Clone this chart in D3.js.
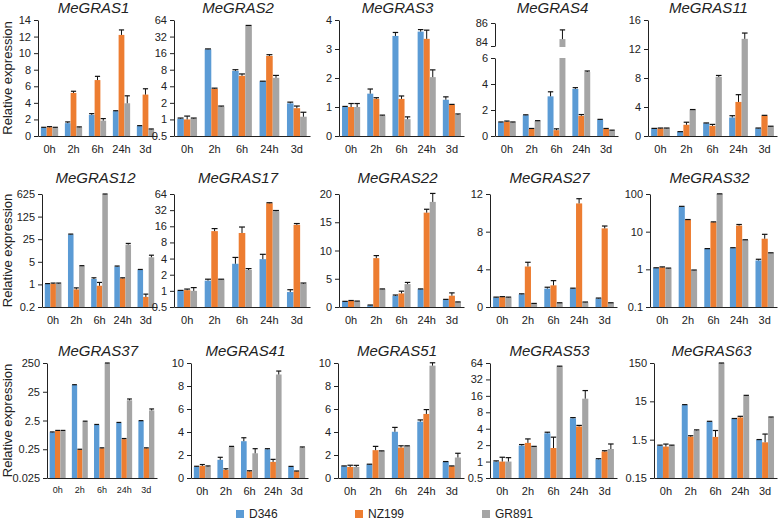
<!DOCTYPE html>
<html>
<head>
<meta charset="utf-8">
<script src="https://cdn.jsdelivr.net/npm/d3@7"></script>
<style>
  body { margin: 0; background: #fff; }
  svg text { font-family: Arial, "Liberation Sans", sans-serif; fill: #222; }
</style>
</head>
<body>
<svg id="chart" width="778" height="522"></svg>
<script>
// ---- data ----
const times = ['0h', '2h', '6h', '24h', '3d'];
const cultivars = ['D346', 'NZ199', 'GR891'];
const genes = ['MeGRAS1', 'MeGRAS2', 'MeGRAS3', 'MeGRAS4', 'MeGRAS11',
               'MeGRAS12', 'MeGRAS17', 'MeGRAS22', 'MeGRAS27', 'MeGRAS32',
               'MeGRAS37', 'MeGRAS41', 'MeGRAS51', 'MeGRAS53', 'MeGRAS63'];

// mean relative expression, one row per gene (same order as genes)
const meanD346 = [
  [1.0, 1.55, 2.55, 3.0, 1.2],
  [1.03, 18.8, 7.6, 4.9, 1.96],
  [1.0, 1.46, 3.45, 3.6, 1.25],
  [1.05, 1.6, 3.05, 3.62, 1.25],
  [1.0, 0.55, 1.75, 2.55, 1.05],
  [1.03, 35, 1.47, 3.56, 2.8],
  [1.0, 1.55, 3.2, 3.9, 0.95],
  [0.95, 0.3, 1.97, 3.15, 1.3],
  [1.0, 1.35, 1.95, 1.95, 0.9],
  [1.08, 46, 3.5, 3.65, 1.72],
  [0.97, 43, 1.77, 2.08, 2.4],
  [0.97, 1.58, 3.2, 2.5, 0.98],
  [1.02, 1.17, 4.02, 4.9, 1.4],
  [1.0, 1.96, 3.3, 6.2, 1.1],
  [1.05, 12, 4.4, 5.2, 1.47]
];
const meanNZ199 = [
  [1.05, 5.2, 6.75, 12.2, 5.0],
  [1.0, 3.6, 6.2, 14.2, 1.6],
  [1.0, 1.28, 1.28, 3.35, 1.07],
  [1.1, 0.55, 0.45, 1.55, 0.55],
  [1.05, 1.55, 1.4, 4.7, 2.8],
  [1.05, 0.7, 0.91, 1.54, 0.41],
  [1.03, 13, 12, 43, 17],
  [1.07, 8.65, 2.4, 16.7, 2.0],
  [1.05, 4.3, 2.3, 11.0, 8.35],
  [1.13, 20.5, 17.8, 14.5, 6.5],
  [1.1, 0.24, 0.27, 0.56, 0.27],
  [1.05, 0.7, 0.58, 1.4, 0.58],
  [0.96, 2.42, 2.65, 5.57, 1.02],
  [1.0, 2.2, 1.77, 4.4, 1.53],
  [0.99, 1.8, 1.77, 5.7, 1.28]
];
const meanGR891 = [
  [1.0, 1.05, 1.85, 3.95, 0.8],
  [1.03, 1.7, 50, 5.7, 1.12],
  [1.0, 0.7, 0.58, 2.03, 0.73],
  [1.05, 1.15, 84.6, 4.92, 0.42],
  [1.05, 3.6, 8.15, 13.4, 1.3],
  [1.05, 3.7, 610, 17, 6.9],
  [1.0, 1.62, 2.45, 30.5, 1.35],
  [1.0, 3.15, 4.05, 18.6, 0.85],
  [1.0, 0.35, 0.42, 0.5, 0.42],
  [1.06, 0.94, 100, 6.0, 2.7],
  [1.1, 2.3, 245, 12.6, 5.6],
  [1.0, 2.7, 2.15, 9.0, 2.65],
  [0.96, 2.33, 2.77, 9.77, 1.78],
  [1.0, 1.85, 55, 14.2, 1.7],
  [1.05, 2.6, 148, 20.7, 5.7]
];

// standard deviation (upper error bar length)
const sdD346 = [
  [0.05, 0.15, 0.15, 0.05, 0.05],
  [0.03, 0.3, 0.4, 0.05, 0.1],
  [0.02, 0.16, 0.12, 0.07, 0.1],
  [0.03, 0.03, 0.35, 0.1, 0.03],
  [0.05, 0.05, 0.05, 0.25, 0.05],
  [0.03, 1, 0.13, 0.14, 0.1],
  [0.02, 0.1, 1.0, 0.9, 0.1],
  [0.05, 0.05, 0.15, 0.05, 0.05],
  [0.05, 0.05, 0.15, 0.05, 0.05],
  [0.02, 1, 0.05, 0.1, 0.13],
  [0.03, 1, 0.05, 0.06, 0.07],
  [0.05, 0.22, 0.3, 0.05, 0.03],
  [0.03, 0.03, 0.38, 0.15, 0.03],
  [0.03, 0.09, 0.15, 0.2, 0.03],
  [0.03, 0.3, 0.12, 0.15, 0.04]
];
const sdNZ199 = [
  [0.08, 0.2, 0.45, 0.6, 0.7],
  [0.15, 0.1, 0.5, 0.8, 0.15],
  [0.12, 0.04, 0.1, 0.3, 0.02],
  [0.05, 0.03, 0.1, 0.1, 0.03],
  [0.05, 0.35, 0.2, 1.0, 0.05],
  [0.05, 0.08, 0.24, 0.06, 0.09],
  [0.05, 1.5, 3.5, 1, 1],
  [0.08, 0.45, 0.4, 0.6, 0.5],
  [0.05, 0.45, 0.5, 0.5, 0.25],
  [0.03, 0.5, 0.4, 1.0, 2.0],
  [0.03, 0.01, 0.01, 0.03, 0.01],
  [0.12, 0.1, 0.05, 0.22, 0.03],
  [0.15, 0.33, 0.15, 0.38, 0.03],
  [0.2, 0.4, 1.03, 0.2, 0.05],
  [0.16, 0.1, 0.83, 0.4, 0.82]
];
const sdGR891 = [
  [0.05, 0.05, 0.25, 0.9, 0.05],
  [0.03, 0.05, 1, 0.6, 0.23],
  [0.12, 0.02, 0.08, 0.25, 0.03],
  [0.03, 0.03, 0.8, 0.08, 0.03],
  [0.05, 0.05, 0.2, 0.8, 0.05],
  [0.05, 0.1, 15, 1.5, 1.1],
  [0.15, 0.03, 0.15, 1.0, 0.05],
  [0.05, 0.05, 0.3, 1.5, 0.05],
  [0.05, 0.03, 0.03, 0.03, 0.03],
  [0.02, 0.02, 1, 0.1, 0.05],
  [0.03, 0.07, 5, 1.4, 0.7],
  [0.05, 0.05, 0.4, 0.3, 0.05],
  [0.14, 0.03, 0.03, 0.25, 0.37],
  [0.18, 0.05, 1, 5.8, 0.4],
  [0.03, 0.1, 2, 0.8, 0.15]
];

// y axis tick labels per gene
const yTicks = [
  [0, 2, 4, 6, 8, 10, 12, 14],
  [0.5, 1, 2, 4, 8, 16, 32, 64],
  [0, 1, 2, 3, 4],
  [0, 2, 4, 6],
  [0, 4, 8, 12, 16],
  [0.2, 1, 5, 25, 125, 625],
  [0.5, 1, 2, 4, 8, 16, 32, 64],
  [0, 5, 10, 15, 20],
  [0, 4, 8, 12],
  [0.1, 1, 10, 100],
  [0.025, 0.25, 2.5, 25, 250],
  [0, 2, 4, 6, 8, 10],
  [0, 2, 4, 6, 8, 10],
  [0.5, 1, 2, 4, 8, 16, 32, 64],
  [0.15, 1.5, 15, 150]
];
const brokenTicks = [84, 86];   // upper segment of MeGRAS4
const yType = ['linear', 'log', 'linear', 'broken', 'linear',
               'log', 'log', 'linear', 'linear', 'log',
               'log', 'linear', 'linear', 'log', 'log'];

// ---- layout ----
const colors = { D346: '#5b9bd5', NZ199: '#ed7d31', GR891: '#a5a5a5' };
const panelX = [
  [38, 157], [174, 310], [339, 464], [495, 618], [648, 777],
  [42, 157], [174, 310], [339, 464], [490, 617], [650, 777],
  [47, 157], [191, 308], [338, 464], [490, 617], [654, 777]
];
const rowY = [[20, 136], [194, 307], [363, 478]];
const titleY = [13, 183, 356];

const svg = d3.select('#chart');
const means = [meanD346, meanNZ199, meanGR891];
const sds = [sdD346, sdNZ199, sdGR891];

genes.forEach((gene, i) => {
  const row = Math.floor(i / 5);
  const [x0, x1] = panelX[i];
  const [top, bottom] = rowY[row];
  const g = svg.append('g');

  const x = d3.scaleBand().domain(times).range([x0, x1])
              .paddingInner(0.28).paddingOuter(0.12);
  const xs = d3.scaleBand().domain(cultivars).range([0, x.bandwidth()]);

  let y, yUp = null;
  const extent = d3.extent(yTicks[i]);
  if (yType[i] === 'log') {
    y = d3.scaleLog().domain(extent).range([bottom, top]);
  } else if (yType[i] === 'broken') {
    y = d3.scaleLinear().domain(extent).range([bottom, top + 38]);
    yUp = d3.scaleLinear().domain(d3.extent(brokenTicks)).range([top + 26, top + 3]);
  } else {
    y = d3.scaleLinear().domain(extent).range([bottom, top]);
  }

  // bars
  cultivars.forEach((c, k) => {
    times.forEach((t, j) => {
      const v = means[k][i][j];
      const s = sds[k][i][j];
      const bx = x(t) + xs(c);
      const bw = xs.bandwidth();
      let yv, ye;
      if (yUp && v > y.domain()[1]) {
        g.append('rect').attr('x', bx).attr('y', y(y.domain()[1]))
          .attr('width', bw).attr('height', bottom - y(y.domain()[1]))
          .attr('fill', colors[c]);
        yv = yUp(v);
        ye = yUp(v + s);
        g.append('rect').attr('x', bx).attr('y', yv)
          .attr('width', bw).attr('height', yUp(yUp.domain()[0]) + 1 - yv)
          .attr('fill', colors[c]);
      } else {
        yv = y(v);
        ye = y(v + s);
        g.append('rect').attr('x', bx).attr('y', yv)
          .attr('width', bw).attr('height', bottom - yv)
          .attr('fill', colors[c]);
      }
      const cx = bx + bw / 2;
      g.append('line').attr('x1', cx).attr('x2', cx).attr('y1', yv).attr('y2', ye)
        .attr('stroke', '#111').attr('stroke-width', 1);
      g.append('line').attr('x1', cx - bw * 0.45).attr('x2', cx + bw * 0.45)
        .attr('y1', ye).attr('y2', ye)
        .attr('stroke', '#111').attr('stroke-width', 1.2);
    });
  });

  // axes
  g.append('g').attr('transform', `translate(${x0},0)`)
    .call(d3.axisLeft(y).tickValues(yTicks[i]).tickSize(4).tickSizeOuter(0)
      .tickPadding(3).tickFormat(d => String(d)));
  if (yUp) {
    const upAxis = g.append('g').attr('transform', `translate(${x0},0)`)
      .call(d3.axisLeft(yUp).tickValues(brokenTicks).tickSize(4).tickSizeOuter(0)
        .tickPadding(3).tickFormat(d => String(d)));
    // tuck the "84" label just above the lower segment
    upAxis.selectAll('.tick text').filter(d => d === 84).attr('dy', '-0.05em');
  }
  const xAxis = g.append('g').attr('transform', `translate(0,${bottom})`)
    .call(d3.axisBottom(x).tickSize(0).tickSizeOuter(0).tickPadding(9));

  g.selectAll('.domain, .tick line').attr('stroke', '#222');
  g.selectAll('.tick text').attr('font-size', 11).attr('fill', '#222');
  if (gene === 'MeGRAS37') xAxis.selectAll('text').attr('font-size', 9);

  // title
  g.append('text')
    .attr('x', (x0 + x1) / 2 - 4)
    .attr('y', titleY[row])
    .attr('text-anchor', 'middle')
    .attr('font-size', 15)
    .attr('font-style', 'italic')
    .text(gene);
});

// y axis label per row
rowY.forEach(([top, bottom]) => {
  svg.append('text')
    .attr('transform', `translate(12,${(top + bottom) / 2}) rotate(-90)`)
    .attr('text-anchor', 'middle')
    .attr('font-size', 13)
    .text('Relative expression');
});

// legend
const legendX = [236, 355, 482];
const legend = svg.append('g');
cultivars.forEach((c, k) => {
  legend.append('rect').attr('x', legendX[k]).attr('y', 510)
    .attr('width', 8).attr('height', 8).attr('fill', colors[c]);
  legend.append('text').attr('x', legendX[k] + 13).attr('y', 518)
    .attr('font-size', 12).text(c);
});
</script>
</body>
</html>
